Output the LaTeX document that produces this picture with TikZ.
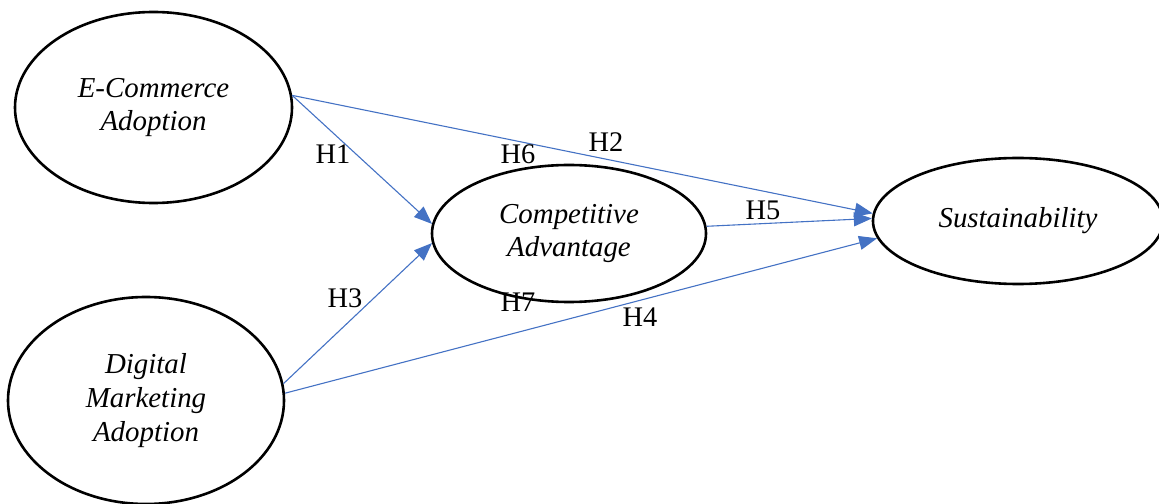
\documentclass[tikz,border=0pt]{standalone}
\usepackage{fontspec}
\setmainfont{Liberation Serif}
\usetikzlibrary{arrows.meta,shapes.geometric}
\definecolor{arrowblue}{HTML}{4472C4}
\tikzset{
  construct/.style={draw=black, line width=2.6bp, ellipse, inner sep=0pt, align=center,
    font=\fontsize{29}{34}\selectfont\itshape},
  hpath/.style={draw=arrowblue, line width=1.1bp, -{Triangle[length=18bp,width=14bp]}},
  hlabel/.style={font=\fontsize{28.5}{33}\selectfont, inner sep=0pt},
}
\begin{document}
\begin{tikzpicture}[x=1bp,y=-1bp]
\useasboundingbox (0,0) rectangle (1159,504);
\node[construct, minimum width=277bp, minimum height=191bp] (ec) at (153.5,107.5) {E-Commerce\\Adoption};
\node[construct, minimum width=276bp, minimum height=207bp] (dm) at (146,400.5) {Digital\\Marketing\\Adoption};
\node[construct, minimum width=274bp, minimum height=137bp] (ca) at (569,233.5) {Competitive\\Advantage};
\node[construct, minimum width=290bp, minimum height=126bp] (su) at (1018,221) {Sustainability};

\draw[hpath] (ec.5) -- (ca.176);
\draw[hpath] (ec.5) -- (su.177);
\draw[hpath] (ca.3) -- (su.179);
\draw[hpath] (dm.7) -- (ca.184);
\draw[hpath] (dm.3) -- (su.187);

\node[hlabel] (h1) at (333,154) {H1};
\node[hlabel] (h6) at (518,154) {H6};
\node[hlabel] (h2) at (606,142) {H2};
\node[hlabel] (h5) at (763,210) {H5};
\node[hlabel] (h3) at (345,298) {H3};
\node[hlabel] (h7) at (518,302) {H7};
\node[hlabel] (h4) at (640,317) {H4};
\end{tikzpicture}
\end{document}
